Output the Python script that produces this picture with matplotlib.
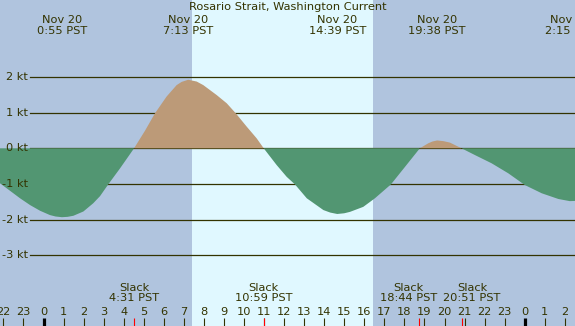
import matplotlib
matplotlib.use("Agg")
import matplotlib.pyplot as plt
from matplotlib.transforms import blended_transform_factory

# ---- data ----
title = "Rosario Strait, Washington Current"
# current speed samples (hours since midnight Nov 20 PST, knots; + flood, - ebb)
hours = [-2.3, -2.17, -1.67, -1.17, -0.67, -0.17, 0.32, 0.6, 0.917, 1.2, 1.49, 1.99,
         2.48, 2.82, 3.23, 3.82, 4.517, 5.06, 5.56, 6.14, 6.64, 6.89, 7.217, 7.64,
         7.97, 8.64, 9.14, 9.59, 10.13, 10.63, 10.983, 11.63, 12.13, 12.54, 13.13,
         13.96, 14.3, 14.65, 15.0, 15.29, 15.95, 16.53, 17.33, 18.03, 18.77, 19.19,
         19.4, 19.633, 19.95, 20.27, 20.85, 21.52, 22.35, 23.18, 24.01, 24.85, 25.68,
         26.25, 26.7]
speed = [-0.93, -0.98, -1.19, -1.40, -1.59, -1.75, -1.87, -1.91, -1.93, -1.92, -1.89, -1.77,
         -1.54, -1.34, -1.01, -0.56, 0.0, 0.49, 0.98, 1.45, 1.77, 1.86, 1.92, 1.87,
         1.77, 1.49, 1.26, 0.98, 0.61, 0.28, 0.0, -0.47, -0.80, -1.01, -1.40,
         -1.73, -1.80, -1.84, -1.82, -1.78, -1.64, -1.40, -1.01, -0.52, 0.0, 0.14,
         0.19, 0.22, 0.20, 0.16, 0.0, -0.19, -0.42, -0.70, -1.03, -1.26, -1.42,
         -1.48, -1.47]
# max current events (top labels)
max_times = [0.917, 7.217, 14.65, 19.633, 26.25]
max_labels = ["Nov 20\n0:55 PST", "Nov 20\n7:13 PST", "Nov 20\n14:39 PST",
              "Nov 20\n19:38 PST", "Nov 21\n2:15 PST"]
# slack events (bottom labels)
slack_times = [4.517, 10.983, 18.733, 20.85]
slack_labels = ["Slack\n4:31 PST", "Slack\n10:59 PST", "Slack\n18:44 PST", "Slack\n20:51 PST"]
# daylight
sunrise, sunset = 7.41, 16.43
y_levels = [2, 1, 0, -1, -2, -3]
hour_ticks = list(range(-2, 27))

# ---- style ----
BG = "#b0c4de"
DAY = "#e0f8ff"
GREEN = "#529672"
BROWN = "#bc9a78"
INK = "#333300"
W, H = 575, 326
FS = 8.2

fig = plt.figure(figsize=(W / 100, H / 100), dpi=100)
fig.patch.set_facecolor(BG)
ax = fig.add_axes([0, 0, 1, 1])
ax.set_facecolor(BG)
ax.set_axis_off()

px_per_hr = 20.05
x0_hr = -43.5 / px_per_hr
px_per_kt = 35.7
zero_py = 148.3
ax.set_xlim(x0_hr, x0_hr + W / px_per_hr)
ax.set_ylim((zero_py - H) / px_per_kt, zero_py / px_per_kt)

ax.axvspan(sunrise, sunset, color=DAY, zorder=0, lw=0)

for lv in y_levels:
    ax.axhline(lv, xmin=30 / W, xmax=1, color=INK, lw=0.9, zorder=1)
    ax.text(x0_hr + 28 / px_per_hr, lv, f"{lv} kt", ha="right", va="center",
            fontsize=FS, color=INK, zorder=3)

ax.fill_between(hours, speed, 0, where=[s <= 0 for s in speed], interpolate=True,
                color=GREEN, lw=0, zorder=2)
ax.fill_between(hours, speed, 0, where=[s >= 0 for s in speed], interpolate=True,
                color=BROWN, lw=0, zorder=2)

tr = blended_transform_factory(ax.transData, fig.transFigure)
def fy(py):
    return 1 - py / H

ax.text(0.5, fy(7), title, transform=fig.transFigure, ha="center", va="center",
        fontsize=FS, color=INK)

for t, lab in zip(max_times, max_labels):
    ax.text(t, fy(25.5), lab, transform=tr, ha="center", va="center",
            fontsize=FS, color=INK, linespacing=1.1)

# push slack labels apart if they would overlap
pos = list(slack_times)
min_sep = 63.7 / px_per_hr
for i in range(1, len(pos)):
    d = pos[i] - pos[i - 1]
    if d < min_sep:
        shift = (min_sep - d) / 2
        pos[i - 1] -= shift
        pos[i] += shift
for t, lab in zip(pos, slack_labels):
    ax.text(t, fy(293), lab, transform=tr, ha="center", va="center",
            fontsize=FS, color=INK, linespacing=1.1)

for h in hour_ticks:
    ax.text(h, fy(312), str(h % 24), transform=tr, ha="center", va="center",
            fontsize=FS, color=INK)
    lw = 2.3 if h % 24 == 0 else 0.8
    ax.plot([h, h], [fy(318), fy(326)], transform=tr, color="black" if h % 24 == 0 else INK,
            lw=lw, solid_capstyle="butt")
for t in slack_times:
    ax.plot([t, t], [fy(318), fy(326)], transform=tr, color="red", lw=0.8,
            solid_capstyle="butt")

fig.savefig("out.png", dpi=100, facecolor=BG)
